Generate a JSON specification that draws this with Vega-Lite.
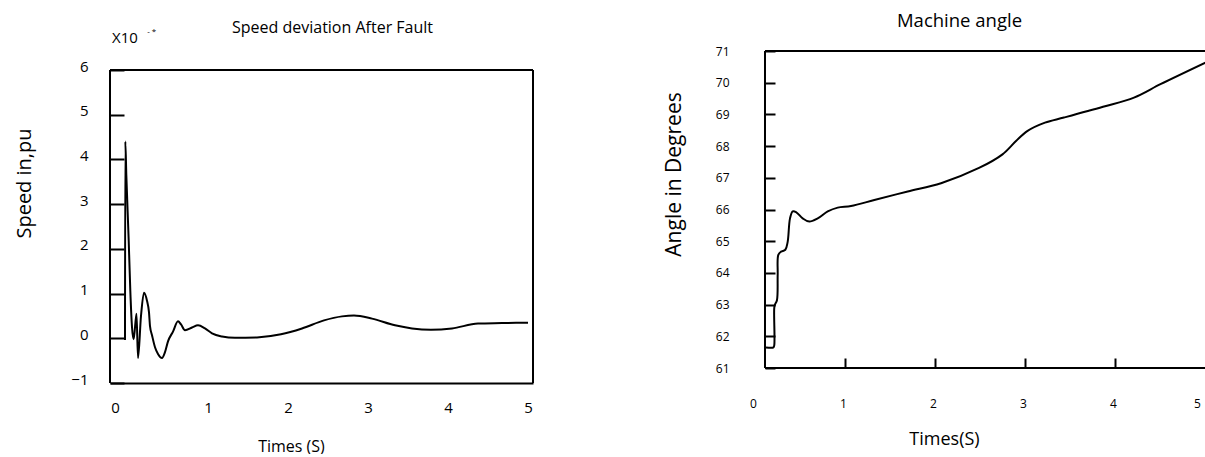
{
  "$schema": "https://vega.github.io/schema/vega-lite/v6.json",
  "background": "white",
  "padding": {"left": 13, "top": 11, "right": 0, "bottom": 0},
  "autosize": {"type": "pad"},
  "spacing": 128,
  "config": {
    "font": "Open Sans",
    "view": {"stroke": null},
    "axis": {"grid": false, "domain": false, "labelColor": "black", "titleColor": "black", "tickColor": "black", "tickWidth": 2, "titleFontWeight": "normal", "labelFont": "Open Sans", "titleFont": "Open Sans", "labelFlush": false, "labelOverlap": false, "format": "d"},
    "title": {"fontWeight": "normal", "color": "black", "font": "Open Sans"}
  },
  "hconcat": [
    {
      "width": 423,
      "height": 332,
      "title": {"text": "Speed deviation After Fault", "fontSize": 16, "dx": 11, "offset": -8},
      "layer": [
        {
          "data": {"values": [
            {"t": -0.0375, "v": -0.04},
            {"t": -0.034, "v": 4.4},
            {"t": -0.021, "v": 3.65},
            {"t": 0.009, "v": 2.17},
            {"t": 0.029, "v": 1.06},
            {"t": 0.05, "v": 0.25},
            {"t": 0.071, "v": -0.02},
            {"t": 0.106, "v": 0.55},
            {"t": 0.125, "v": -0.44},
            {"t": 0.1625, "v": 0.5},
            {"t": 0.2, "v": 1.02},
            {"t": 0.2375, "v": 0.84},
            {"t": 0.2625, "v": 0.58},
            {"t": 0.275, "v": 0.27},
            {"t": 0.3, "v": 0.07},
            {"t": 0.3375, "v": -0.2},
            {"t": 0.375, "v": -0.35},
            {"t": 0.425, "v": -0.44},
            {"t": 0.4625, "v": -0.31},
            {"t": 0.5, "v": -0.07},
            {"t": 0.5625, "v": 0.15},
            {"t": 0.625, "v": 0.38},
            {"t": 0.6625, "v": 0.31},
            {"t": 0.7125, "v": 0.18},
            {"t": 0.8, "v": 0.24},
            {"t": 0.875, "v": 0.29},
            {"t": 0.9625, "v": 0.22},
            {"t": 1.05, "v": 0.11},
            {"t": 1.175, "v": 0.04},
            {"t": 1.3375, "v": 0.01},
            {"t": 1.6125, "v": 0.02},
            {"t": 1.9125, "v": 0.09},
            {"t": 2.175, "v": 0.22},
            {"t": 2.45, "v": 0.4},
            {"t": 2.675, "v": 0.49},
            {"t": 2.825, "v": 0.51},
            {"t": 3.05, "v": 0.44},
            {"t": 3.3375, "v": 0.29},
            {"t": 3.55, "v": 0.22},
            {"t": 3.7875, "v": 0.19},
            {"t": 4.05, "v": 0.22},
            {"t": 4.375, "v": 0.33},
            {"t": 4.675, "v": 0.34},
            {"t": 5.0, "v": 0.35}
          ]},
          "mark": {"type": "line", "color": "black", "strokeWidth": 2, "interpolate": "monotone"},
          "encoding": {
            "x": {"field": "t", "type": "quantitative",
              "scale": {"domain": [-0.225, 5.0625], "nice": false, "zero": false},
              "axis": {"values": [0, 1, 2, 3, 4, 5], "tickCount": 20, "ticks": false, "labelPadding": 17, "labelFontSize": 15, "labelOverlap": false, "format": "d",
                "domain": true, "domainColor": "black", "domainWidth": 2,
                "labelOffset": {"condition": {"test": "datum.value == 0", "value": -13}, "value": 0},
                "title": "Times (S)", "titleFontSize": 16, "titleX": 181, "titleY": 63, "titleBaseline": "middle"}},
            "y": {"field": "v", "type": "quantitative",
              "scale": {"domain": [-1, 6.425], "nice": false, "zero": false},
              "axis": {"values": [-1, 0, 1, 2, 3, 4, 5, 6], "tickCount": 20, "tickSize": -14, "labelPadding": 36, "labelFontSize": 15, "labelOffset": -4, "labelOverlap": false, "format": "d",
                "title": "Speed  in,pu", "titleFontSize": 20, "titleX": -86, "titleY": 132, "titleBaseline": "middle"}}
          }
        },
        {
          "data": {"values": [{}]},
          "mark": {"type": "rule", "color": "black", "strokeWidth": 2},
          "encoding": {
            "x": {"datum": -0.225, "type": "quantitative"},
            "x2": {"datum": 5.0625},
            "y": {"datum": 6, "type": "quantitative"}
          }
        },
        {
          "data": {"values": [{}]},
          "mark": {"type": "rule", "color": "black", "strokeWidth": 2},
          "encoding": {
            "x": {"datum": -0.225, "type": "quantitative"},
            "y": {"datum": -1, "type": "quantitative"},
            "y2": {"datum": 6}
          }
        },
        {
          "data": {"values": [{}]},
          "mark": {"type": "rule", "color": "black", "strokeWidth": 2},
          "encoding": {
            "x": {"datum": 5.0625, "type": "quantitative"},
            "y": {"datum": -1, "type": "quantitative"},
            "y2": {"datum": 6}
          }
        },
        {
          "data": {"values": [{"t": -0.2, "v": 6.716, "label": "X10"}]},
          "mark": {"type": "text", "align": "left", "baseline": "middle", "fontSize": 15, "color": "black"},
          "encoding": {
            "x": {"field": "t", "type": "quantitative"},
            "y": {"field": "v", "type": "quantitative"},
            "text": {"field": "label"}
          }
        },
        {
          "data": {"values": [{"t": 0.24, "v": 6.85, "label": "- *"}]},
          "mark": {"type": "text", "align": "left", "baseline": "middle", "fontSize": 8, "color": "black"},
          "encoding": {
            "x": {"field": "t", "type": "quantitative"},
            "y": {"field": "v", "type": "quantitative"},
            "text": {"field": "label"}
          }
        }
      ]
    },
    {
      "width": 453,
      "height": 317,
      "title": {"text": "Machine angle", "fontSize": 18.5, "dx": -20, "offset": 15},
      "layer": [
        {
          "data": {"values": [
            {"t": 0.122, "v": 61.65},
            {"t": 0.205, "v": 61.65},
            {"t": 0.214, "v": 61.72},
            {"t": 0.214, "v": 62.9},
            {"t": 0.222, "v": 63.0},
            {"t": 0.244, "v": 63.14},
            {"t": 0.252, "v": 63.94},
            {"t": 0.259, "v": 64.57},
            {"t": 0.289, "v": 64.67},
            {"t": 0.337, "v": 64.73},
            {"t": 0.363, "v": 64.98},
            {"t": 0.389, "v": 65.72},
            {"t": 0.419, "v": 65.94},
            {"t": 0.456, "v": 65.92},
            {"t": 0.53, "v": 65.72},
            {"t": 0.603, "v": 65.62},
            {"t": 0.697, "v": 65.72},
            {"t": 0.808, "v": 65.94},
            {"t": 0.919, "v": 66.06},
            {"t": 1.067, "v": 66.11},
            {"t": 1.326, "v": 66.3},
            {"t": 1.697, "v": 66.57},
            {"t": 2.067, "v": 66.83},
            {"t": 2.489, "v": 67.31},
            {"t": 2.75, "v": 67.74},
            {"t": 2.9, "v": 68.16},
            {"t": 3.029, "v": 68.48},
            {"t": 3.222, "v": 68.74},
            {"t": 3.433, "v": 68.9},
            {"t": 3.867, "v": 69.24},
            {"t": 4.211, "v": 69.53},
            {"t": 4.511, "v": 69.96},
            {"t": 5.011, "v": 70.64}
          ]},
          "mark": {"type": "line", "color": "black", "strokeWidth": 2, "interpolate": "catmull-rom"},
          "encoding": {
            "x": {"field": "t", "type": "quantitative",
              "scale": {"domain": [-0.0222, 5.0111], "nice": false, "zero": false},
              "axis": {"values": [0, 1, 2, 3, 4, 5], "tickCount": 20, "tickSize": -10, "labelOverlap": false, "format": "d",
                "tickOpacity": {"condition": {"test": "datum.value < 1 || datum.value > 4", "value": 0}, "value": 1},
                "labelOffset": {"condition": {"test": "datum.value == 5", "value": -8}, "value": -2},
                "labelPadding": 40, "labelFontSize": 12,
                "title": "Times(S)", "titleFontSize": 18, "titleX": 191, "titleY": 71, "titleBaseline": "middle"}},
            "y": {"field": "v", "type": "quantitative",
              "scale": {"domain": [61, 71], "nice": false, "zero": false},
              "axis": {"values": [61, 62, 63, 64, 65, 66, 67, 68, 69, 70, 71], "tickCount": 20, "offset": -12, "tickSize": -10, "labelPadding": 46, "labelFontSize": 12, "labelOverlap": false, "format": "d",
                "title": "Angle in Degrees", "titleFontSize": 21, "titleX": -91, "titleY": 123, "titleBaseline": "middle"}}
          }
        },
        {
          "data": {"values": [{}]},
          "mark": {"type": "rule", "color": "black", "strokeWidth": 2},
          "encoding": {
            "x": {"datum": 0.1111, "type": "quantitative"},
            "x2": {"datum": 5.0111},
            "y": {"datum": 71, "type": "quantitative"}
          }
        },
        {
          "data": {"values": [{}]},
          "mark": {"type": "rule", "color": "black", "strokeWidth": 2},
          "encoding": {
            "x": {"datum": 0.1111, "type": "quantitative"},
            "x2": {"datum": 5.0111},
            "y": {"datum": 61, "type": "quantitative"}
          }
        },
        {
          "data": {"values": [{}]},
          "mark": {"type": "rule", "color": "black", "strokeWidth": 2},
          "encoding": {
            "x": {"datum": 0.1111, "type": "quantitative"},
            "y": {"datum": 61, "type": "quantitative"},
            "y2": {"datum": 71}
          }
        }
      ]
    }
  ]
}
